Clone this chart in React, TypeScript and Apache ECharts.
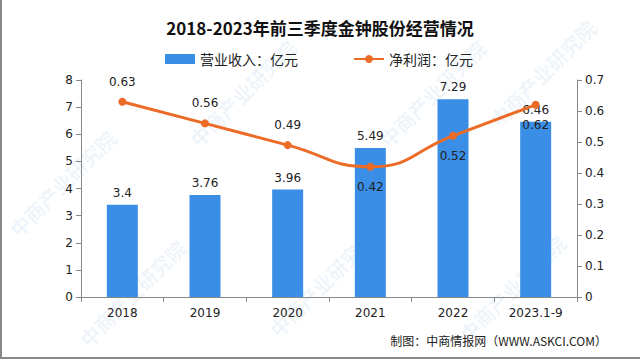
import React, { useEffect, useRef } from "react";
import * as echarts from "echarts";

const categories = ["2018", "2019", "2020", "2021", "2022", "2023.1-9"];
const revenue = [3.4, 3.76, 3.96, 5.49, 7.29, 6.46];
const profit = [0.63, 0.56, 0.49, 0.42, 0.52, 0.62];
const profitLabelPos = ["top", "top", "top", "bottom", "bottom", "bottom"];
const leftTicks = [0, 1, 2, 3, 4, 5, 6, 7, 8];
const rightTicks = [0, 0.1, 0.2, 0.3, 0.4, 0.5, 0.6, 0.7];

const BLUE = "#3A8EE6";
const ORANGE = "#EC6B26";
const LABEL_FONT = "'DejaVu Sans', 'Noto Sans CJK SC', sans-serif";

export default function App() {
  const ref = useRef<HTMLDivElement>(null);
  useEffect(() => {
    document.body.style.margin = "0";
    const chart = echarts.init(ref.current!, undefined, { renderer: "svg" });
    const watermarks: any[] = [];
    const wmPos = [
      [20, 240], [200, 150], [390, 150], [500, 130], [90, 350], [280, 340], [470, 345]
    ];
    wmPos.forEach(([x, y]) => {
      watermarks.push({
        type: "text",
        x,
        y,
        rotation: Math.PI / 4,
        silent: true,
        z: -10,
        style: {
          text: "中商产业研究院",
          fill: "rgba(120,170,220,0.13)",
          font: "bold 20px 'Noto Sans CJK SC', sans-serif",
          textVerticalAlign: "bottom",
        },
      });
    });
    chart.setOption({
      animation: false,
      backgroundColor: "#ffffff",
      title: {
        text: "2018-2023年前三季度金钟股份经营情况",
        left: "center",
        top: 14,
        textStyle: {
          fontSize: 17,
          fontWeight: "bold",
          color: "#111",
          fontFamily: "'Noto Sans CJK SC', sans-serif",
        },
      },
      legend: {
        top: 47,
        left: 160,
        itemGap: 55,
        itemWidth: 30,
        itemHeight: 10,
        textStyle: { fontSize: 14, color: "#222", fontFamily: "'Noto Sans CJK SC', sans-serif" },
        data: [
          { name: "营业收入：亿元", icon: "rect" },
          { name: "净利润：亿元" },
        ],
      },
      grid: { left: 81, right: 63, top: 80, bottom: 64 },
      xAxis: {
        type: "category",
        data: categories,
        axisLine: { lineStyle: { color: "#888" } },
        axisTick: { show: true, alignWithLabel: false, lineStyle: { color: "#888" } },
        axisLabel: { color: "#222", fontSize: 12, margin: 10, fontFamily: LABEL_FONT },
      },
      yAxis: [
        {
          type: "value",
          min: leftTicks[0],
          max: leftTicks[leftTicks.length - 1],
          interval: 1,
          axisLine: { show: true, lineStyle: { color: "#888" } },
          axisTick: { show: true, lineStyle: { color: "#888" } },
          splitLine: { show: false },
          axisLabel: { color: "#222", fontSize: 12, fontFamily: LABEL_FONT },
        },
        {
          type: "value",
          min: rightTicks[0],
          max: rightTicks[rightTicks.length - 1],
          interval: 0.1,
          position: "right",
          axisLine: { show: true, lineStyle: { color: "#888" } },
          axisTick: { show: true, lineStyle: { color: "#888" } },
          splitLine: { show: false },
          axisLabel: {
            color: "#222",
            fontSize: 12,
            fontFamily: LABEL_FONT,
            formatter: (v: number) => (v === 0 ? "0" : v.toFixed(1)),
          },
        },
      ],
      series: [
        {
          name: "营业收入：亿元",
          type: "bar",
          data: revenue,
          barWidth: 31,
          itemStyle: { color: BLUE },
          label: {
            show: true,
            position: "top",
            color: "#222",
            fontSize: 12,
            distance: 6,
            fontFamily: LABEL_FONT,
          },
        },
        {
          name: "净利润：亿元",
          type: "line",
          yAxisIndex: 1,
          smooth: true,
          symbol: "circle",
          symbolSize: 8,
          lineStyle: { color: ORANGE, width: 3 },
          itemStyle: { color: ORANGE },
          data: profit.map((v, i) => ({
            value: v,
            label: {
              show: true,
              position: profitLabelPos[i],
              distance: 10,
              color: "#222",
              fontSize: 12,
              fontFamily: LABEL_FONT,
            },
          })),
        },
      ],
      graphic: [
        ...watermarks,
        {
          type: "text",
          right: 33,
          top: 334,
          style: {
            text: "制图：中商情报网（WWW.ASKCI.COM）",
            fill: "#222",
            font: "12px 'Noto Sans CJK SC', sans-serif",
          },
        },
        {
          type: "line",
          shape: { x1: 1, y1: 0, x2: 1, y2: 358 },
          silent: true,
          style: { stroke: "#888", lineWidth: 2 },
        },
        {
          type: "line",
          shape: { x1: 0, y1: 358, x2: 640, y2: 358 },
          silent: true,
          style: { stroke: "#888", lineWidth: 2 },
        },
      ],
    });
    return () => chart.dispose();
  }, []);
  return <div ref={ref} style={{ width: 640, height: 361 }} />;
}
